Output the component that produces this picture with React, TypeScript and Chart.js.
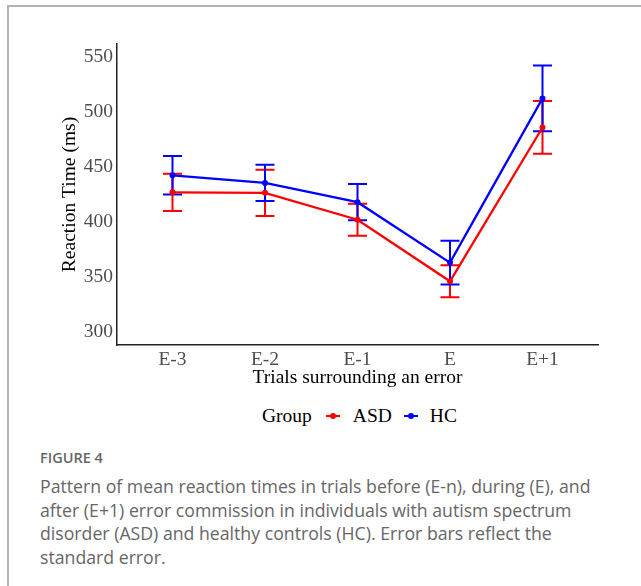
import React, { useEffect, useRef } from "react";
import { Chart, registerables } from "chart.js";

Chart.register(...registerables);

const CATEGORIES = ["E-3", "E-2", "E-1", "E", "E+1"];
const Y_TICKS = [300, 350, 400, 450, 500, 550];
const ASD_MEAN = [427, 426.5, 402, 346, 486];
const ASD_SE = [17, 21, 14.5, 14.5, 24];
const HC_MEAN = [442.5, 435.5, 418, 363, 512.5];
const HC_SE = [17.5, 16.5, 16.5, 20, 30];
const SERIES = [
  { label: "ASD", mean: ASD_MEAN, se: ASD_SE, color: "#ff0000" },
  { label: "HC", mean: HC_MEAN, se: HC_SE, color: "#0000ff" },
];

const SERIF = "'Liberation Serif', 'Times New Roman', serif";
const SANS = "'Open Sans', 'Noto Sans', sans-serif";

const errorBarPlugin = {
  id: "errorBars",
  beforeDatasetsDraw(chart: any) {
    const ctx = chart.ctx;
    const xs = chart.scales.x;
    const ys = chart.scales.y;
    SERIES.forEach((s) => {
      ctx.save();
      ctx.strokeStyle = s.color;
      ctx.lineWidth = 2;
      s.mean.forEach((m, i) => {
        const px = xs.getPixelForValue(i);
        const top = ys.getPixelForValue(m + s.se[i]);
        const bot = ys.getPixelForValue(m - s.se[i]);
        const hw = 9.5;
        ctx.beginPath();
        ctx.moveTo(px, top);
        ctx.lineTo(px, bot);
        ctx.moveTo(px - hw, top);
        ctx.lineTo(px + hw, top);
        ctx.moveTo(px - hw, bot);
        ctx.lineTo(px + hw, bot);
        ctx.stroke();
      });
      ctx.restore();
    });
  },
};

function Marker({ color }: { color: string }) {
  return (
    <span style={{ position: "relative", display: "inline-block", width: 14, height: 20 }}>
      <span style={{ position: "absolute", left: 0, top: 9, width: 14, height: 2.2, background: color }} />
      <span
        style={{
          position: "absolute",
          left: 4,
          top: 7,
          width: 6,
          height: 6,
          borderRadius: 3,
          background: color,
        }}
      />
    </span>
  );
}

export default function App() {
  const ref = useRef<HTMLCanvasElement | null>(null);

  useEffect(() => {
    if (!ref.current) return;
    const chart = new Chart(ref.current, {
      type: "line",
      data: {
        datasets: SERIES.map((s) => ({
          label: s.label,
          data: s.mean.map((v, i) => ({ x: i, y: v })),
          borderColor: s.color,
          backgroundColor: s.color,
          borderWidth: 2.3,
          pointRadius: 3,
          pointHoverRadius: 3,
          pointBorderWidth: 0,
          tension: 0,
          fill: false,
        })),
      },
      plugins: [errorBarPlugin],
      options: {
        animation: false,
        responsive: false,
        devicePixelRatio: 1,
        layout: { padding: { left: 50, top: 44, right: 43, bottom: 0 } },
        plugins: { legend: { display: false }, tooltip: { enabled: false } },
        scales: {
          x: {
            type: "linear",
            min: -0.6,
            max: 4.6,
            afterBuildTicks: (scale: any) => {
              scale.ticks = CATEGORIES.map((_, i) => ({ value: i }));
            },
            afterFit: (scale: any) => {
              scale.height = 55;
            },
            grid: { display: false, drawTicks: false },
            border: { display: true, color: "#222", width: 1.5 },
            ticks: {
              padding: 3,
              color: "#4d4d4d",
              font: { family: SERIF, size: 19.5 },
              maxRotation: 0,
              autoSkip: false,
              callback: (v: any) => CATEGORIES[Number(v)] ?? "",
            },
            title: {
              display: true,
              text: "Trials surrounding an error",
              color: "#000",
              font: { family: SERIF, size: 19.5 },
              padding: { top: 0, bottom: 10 },
            },
          },
          y: {
            type: "linear",
            min: 288,
            max: 562,
            afterBuildTicks: (scale: any) => {
              scale.ticks = Y_TICKS.map((v) => ({ value: v }));
            },
            afterFit: (scale: any) => {
              scale.width = 67;
            },
            grid: { display: false, drawTicks: false },
            border: { display: true, color: "#222", width: 1.5 },
            ticks: {
              padding: 4,
              color: "#4d4d4d",
              font: { family: SERIF, size: 19.5 },
            },
            title: {
              display: true,
              text: "Reaction Time (ms)",
              color: "#000",
              font: { family: SERIF, size: 19.5 },
              padding: { top: 8, bottom: 0 },
            },
          },
        },
      },
    });
    return () => chart.destroy();
  }, []);

  return (
    <div
      style={{
        position: "absolute",
        left: 0,
        top: 0,
        width: 641,
        height: 586,
        background: "#fff",
        overflow: "hidden",
      }}
    >
      <div
        style={{
          position: "absolute",
          left: 7,
          top: 5,
          width: 700,
          height: 700,
          borderTop: "2px solid #b4b4b4",
          borderLeft: "2px solid #b4b4b4",
        }}
      />
      <canvas
        ref={ref}
        width={641}
        height={400}
        style={{ position: "absolute", left: 0, top: 0, width: 641, height: 400 }}
      />
      <div
        style={{
          position: "absolute",
          left: 262,
          top: 406,
          height: 20,
          display: "flex",
          alignItems: "center",
          fontFamily: SERIF,
          fontSize: 19.5,
          lineHeight: "20px",
          color: "#000",
          whiteSpace: "nowrap",
        }}
      >
        <span>Group</span>
        <span style={{ width: 14 }} />
        <Marker color="#ff0000" />
        <span style={{ width: 13 }} />
        <span>ASD</span>
        <span style={{ width: 12 }} />
        <Marker color="#0000ff" />
        <span style={{ width: 12 }} />
        <span>HC</span>
      </div>
      <div
        style={{
          position: "absolute",
          left: 40,
          top: 449,
          fontFamily: SANS,
          fontSize: 14.5,
          fontWeight: 600,
          lineHeight: "18px",
          color: "#666",
          whiteSpace: "nowrap",
        }}
      >
        FIGURE 4
      </div>
      <div
        style={{
          position: "absolute",
          left: 40,
          top: 475,
          fontFamily: SANS,
          fontSize: 17.7,
          lineHeight: "23.7px",
          color: "#666",
          whiteSpace: "nowrap",
        }}
      >
        Pattern of mean reaction times in trials before (E-n), during (E), and
        <br />
        after (E+1) error commission in individuals with autism spectrum
        <br />
        disorder (ASD) and healthy controls (HC). Error bars reflect the
        <br />
        standard error.
      </div>
    </div>
  );
}
